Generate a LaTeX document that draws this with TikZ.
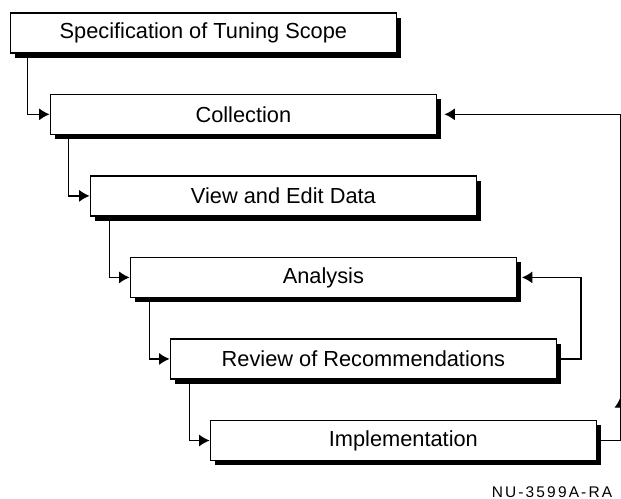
\documentclass[tikz,border=0pt]{standalone}
\usepackage{fontspec}
\setmainfont{Liberation Sans}
\usetikzlibrary{positioning}
\usetikzlibrary{calc}
\usetikzlibrary{arrows.meta}
\usetikzlibrary{shadows}

\begin{document}
\begin{tikzpicture}[
        node distance= 1cm and 1cm,
        box/.style={draw, line width=1.1pt, fill=white, rectangle, minimum width=9.65cm, minimum height=1cm, align=center,
            font=\fontsize{15.5}{18}\selectfont,
            drop shadow={shadow xshift=0.12cm, shadow yshift=-0.12cm, opacity=1, fill=black}},
        arrow/.style={line width=1pt, -{Latex[length=0.26cm, width=0.3cm]}},
    ]
        \useasboundingbox (0,0) rectangle (15.525,-12.475);

        \node[box, anchor=north west] (spec) at (0.24,-0.3) {Specification of Tuning Scope};
        \node[box, below right = of spec.south west] (collect) {Collection};
        \node[box, below right = of collect.south west] (view) {View and Edit Data};
        \node[box, below right = of view.south west] (analysis) {Analysis};
        \node[box, below right = of analysis.south west] (review) {Review of Recommendations};
        \node[box, below right = of review.south west] (impl) {Implementation};

        \node[anchor=base east, font=\fontsize{11}{13}\selectfont\addfontfeature{LetterSpace=14}] (fignum) at (15.43,-12.43) {NU-3599A-RA};

        % steps down
        \draw[arrow] ([xshift=0.45cm]spec.south west) |- (collect.west);
        \draw[arrow] ([xshift=0.47cm]collect.south west) |- (view.west);
        \draw[arrow] ([xshift=0.5cm]view.south west) |- (analysis.west);
        \draw[arrow] ([xshift=0.5cm]analysis.south west) |- (review.west);
        \draw[arrow] ([xshift=0.5cm]review.south west) |- (impl.west);

        % feedback loops
        \coordinate[right = 0.6cm of review.east] (back1);
        \coordinate[right = 0.58cm of impl.east] (back2);
        \draw[arrow] (review.east) -- (back1) |- ([xshift=0.12cm]analysis.east);
        \draw[arrow] (impl.east) -- (back2) |- ([xshift=0.18cm]collect.east);
        \draw[arrow] (back2) -- ++(0,1.08);
    \end{tikzpicture}
\end{document}
